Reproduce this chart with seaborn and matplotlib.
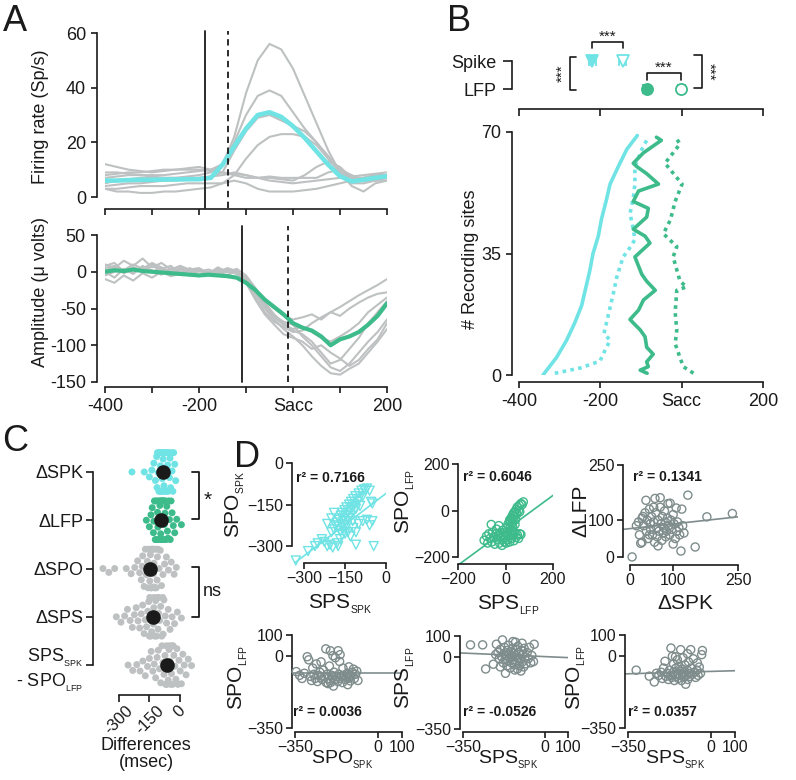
import matplotlib
matplotlib.use("Agg")
import matplotlib.pyplot as plt
import numpy as np
import pandas as pd
import seaborn as sns

# ======================= DATA =======================
# ---- Panel A: firing rate (Sp/s) ----
fr_time = [-400, -375, -350, -325, -300, -275, -250, -225, -200, -175, -150, -125,
           -100, -75, -50, -25, 0, 25, 50, 75, 100, 125, 150, 175, 200]
fr_site1 = [9, 9, 8.5, 8, 8, 8, 8.5, 9, 9.5, 10, 12, 22, 38, 50, 56, 54, 47, 37, 27, 17, 9, 5, 5, 6, 7]
fr_site2 = [7, 7.5, 8, 8, 7.5, 7, 7, 7.5, 8, 9, 12, 20, 30, 37, 39, 37, 31, 25, 20, 14, 9, 7, 7, 8, 8]
fr_site3 = [4, 4.5, 5, 5, 5.5, 6, 6, 6.5, 7, 7.5, 9, 17, 24, 29, 30, 28, 26, 24, 20, 15, 10, 7, 7, 8, 8]
fr_site4 = [3, 3, 3.5, 4, 4, 4, 4.5, 5, 5, 5, 5, 8, 14, 19, 22, 23, 23, 22, 19, 14, 9, 4, 2, 5, 6]
fr_site5 = [12, 11, 10, 9.5, 9, 9.5, 10, 10, 10, 9.5, 9, 8.5, 8, 7, 7, 6.5, 6, 8, 11, 13, 11, 7, 6, 6, 6]
fr_site6 = [8, 8.5, 9, 9, 9.5, 10, 10, 10.5, 11, 10, 9, 8, 7, 7, 7.5, 7, 7, 7, 7, 9, 10, 8, 6, 6, 7]
fr_site7 = [3, 2, 2, 1.5, 1.5, 2, 2, 2.5, 3, 3.5, 5, 6, 5, 3, 2, 2, 2, 2.5, 3, 4, 5, 6, 7, 7, 7]
fr_site8 = [5, 6, 6.5, 7, 7, 7, 7, 7, 7, 7.5, 8, 9, 8, 7, 6, 5.5, 5, 5.5, 6, 6.5, 7, 7.5, 8, 8.5, 9]
fr_mean = [6, 6, 6.2, 6.3, 6.3, 6.4, 6.4, 6.5, 6.5, 7, 11.8, 18.5, 25, 30, 31, 29.3, 25.9, 21.6,
           16.7, 11.8, 7.6, 5.7, 6.3, 7, 7.6]
fr_events = [-187, -138]          # spike onset (solid), spike offset (dashed)

# ---- Panel A: LFP amplitude (micro volts) ----
lfp_time = [-400, -380, -360, -340, -320, -300, -280, -260, -240, -220, -200, -180, -160, -140,
            -120, -100, -80, -60, -40, -20, 0, 20, 40, 60, 80, 100, 120, 140, 160, 180, 200]
lfp_site1 = [5, 8, 2, 10, 4, 12, 6, 0, 8, 3, 5, -2, 4, 1, -3, -10, -25, -40, -50, -60, -65, -62,
             -58, -65, -55, -48, -40, -32, -25, -18, -10]
lfp_site2 = [-10, -15, -5, -12, -2, -8, 0, -6, -3, 2, -5, 0, -4, 3, 0, -8, -30, -50, -65, -78, -88,
             -100, -115, -128, -138, -140, -132, -125, -110, -95, -78]
lfp_site3 = [10, 5, 15, 8, 18, 6, 12, 3, 8, 0, 4, -3, 2, -1, 4, -5, -22, -42, -58, -70, -80, -85,
             -95, -110, -125, -120, -105, -90, -70, -55, -40]
lfp_site4 = [-5, 0, 3, -2, 6, 2, -4, 5, -1, 2, -6, 0, -3, 2, -2, -12, -35, -55, -68, -75, -82, -80,
             -70, -62, -55, -60, -50, -42, -35, -30, -28]
lfp_site5 = [0, -8, 4, -3, 8, 0, 5, -2, 3, -4, 1, -2, 0, -5, 2, -15, -38, -58, -72, -85, -90, -95,
             -105, -100, -110, -118, -128, -120, -105, -92, -70]
lfp_site6 = [8, 12, 0, 6, 2, 10, 4, 8, -2, 5, 0, 3, -1, 5, 1, -10, -28, -45, -62, -72, -78, -75,
             -82, -90, -95, -88, -80, -70, -55, -45, -35]
lfp_site7 = [2, 6, -2, 3, 0, 8, 2, -4, 5, 0, 2, -3, 6, 0, -2, -8, -25, -48, -60, -68, -72, -88,
             -100, -115, -130, -135, -125, -110, -95, -82, -65]
lfp_mean = [0, 2, 1, 3, 1, 0, -1, -2, -3, -4, -5, -4, -5, -6, -8, -15, -25, -38, -48, -58, -70,
            -76, -80, -88, -100, -92, -88, -82, -72, -60, -43]
lfp_events = [-109, -11]          # LFP onset (solid), LFP offset (dashed)

# ---- Panel B: onset / offset per recording site ----
b_spk_on_site = [0, 5, 10, 15, 20, 25, 30, 35, 40, 45, 50, 55, 60, 65, 69]
b_spk_on_t = [-341, -308, -283, -263, -246, -236, -226, -218, -205, -197, -186, -176, -156, -135, -109]
b_spk_off_site = [0.5, 2, 4, 7, 10, 12, 17, 23.5, 28, 34, 36, 39, 42, 46.5, 51, 55, 60, 65, 68.5]
b_spk_off_t = [-312, -250, -201, -189, -176, -191, -181, -168, -160, -144, -131, -115, -119, -127,
               -119, -115, -115, -98, -82]
b_lfp_on_site = [0.5, 1.4, 2.4, 3.8, 6, 8, 11, 13, 15, 16, 18.7, 21.6, 24.4, 27, 29, 34, 38, 40, 42,
                 45.5, 48, 50, 53, 55, 58, 60, 61, 64, 67.6, 68.5]
b_lfp_on_t = [-85, -102, -82, -86, -70, -86, -90, -102, -119, -127, -106, -94, -65, -86, -98, -115,
              -78, -90, -119, -86, -82, -119, -106, -57, -86, -110, -119, -94, -50, -62]
b_lfp_off_site = [0.5, 2.4, 5, 9, 13, 18, 24.4, 25.4, 27, 34, 37, 40.7, 44.6, 50, 55, 61, 64, 66.6, 68.5]
b_lfp_off_t = [29, 4, -4, -16, -12, -16, -12, 12, -4, -21, -12, -45, -28, -16, 1, -41, -21, -4, -16]
b_spk_mean = [-220, -145]         # onset, offset
b_spk_err = [9, 9]
b_lfp_mean = [-86, -1]
b_lfp_err = [9, 9]

# ---- Panel C: differences (msec) ----
c_order = ["ΔSPK", "ΔLFP", "ΔSPO", "ΔSPS", "SPS−SPO"]
c_dspk = [-236, -175, -150, -138, -128, -120, -114, -110, -106, -103, -100, -97, -95, -92, -90, -88,
          -86, -84, -82, -80, -78, -76, -74, -72, -70, -68, -65, -62, -60, -57, -54, -51, -48, -45,
          -42, -38, -34, -30, -25, -20, -112, -94]
c_dlfp = [-165, -150, -142, -136, -130, -125, -121, -117, -113, -110, -107, -104, -101, -98, -96,
          -94, -92, -90, -88, -86, -84, -82, -80, -78, -76, -73, -70, -67, -64, -61, -58, -55, -51,
          -47, -43, -38, -32, -25, -15, 8, -128, -108, -93, -83]
c_dspo = [-379, -350, -321, -264, -240, -222, -208, -198, -190, -183, -176, -170, -165, -160, -156,
          -152, -148, -145, -142, -139, -136, -133, -130, -127, -124, -120, -116, -112, -107, -102,
          -96, -90, -83, -75, -66, -56, -42, -28, -17, -155, -140, -128, -110, -185]
c_dsps = [-313, -290, -272, -258, -245, -234, -224, -215, -206, -198, -190, -183, -176, -170, -164,
          -158, -153, -148, -143, -139, -135, -131, -127, -123, -119, -115, -111, -107, -103, -99,
          -94, -89, -84, -78, -72, -65, -57, -48, -38, -26, -12, 8, -150, -128, -105, -82]
c_sps_spo = [-255, -232, -212, -196, -182, -170, -159, -150, -141, -133, -126, -119, -112, -106,
             -100, -94, -88, -83, -78, -73, -69, -65, -61, -57, -53, -49, -45, -41, -37, -33, -29,
             -24, -19, -14, -9, -4, 2, 8, 15, 22, 31, 42, 58, -66, -51, -36]
c_means = [-82, -91, -148, -132, -63]
c_sem = [13, 13, 13, 13, 13]

# ---- Panel D: scatter data ----
d1_x = [-330, -285, -260, -250, -235, -225, -215, -205, -195, -180, -175, -168, -200, -190, -185,
        -180, -175, -172, -168, -165, -162, -160, -158, -155, -152, -150, -148, -145, -143, -140,
        -138, -135, -132, -130, -128, -125, -122, -120, -118, -115, -112, -110, -105, -100, -98,
        -95, -90, -85, -80, -75, -70, -60, -150, -160, -140, -120, -130, -100, -85, -70, -60, -50,
        -45, -110, -110, -215, -200, -190, -50, -55]
d1_y = [-352, -318, -300, -290, -275, -285, -300, -295, -305, -290, -300, -275, -250, -240, -225,
        -215, -230, -205, -245, -190, -220, -180, -200, -235, -170, -210, -190, -160, -225, -180,
        -200, -150, -170, -190, -140, -160, -210, -130, -175, -150, -120, -165, -140, -110, -130,
        -155, -100, -120, -95, -100, -92, -100, -255, -260, -250, -235, -265, -220, -210, -205,
        -225, -210, -300, -295, -250, -220, -200, -180, -146, -140]
d2_x = [-90, -80, -75, -70, -65, -60, -58, -55, -50, -45, -40, -38, -35, -30, -28, -25, -20, -18,
        -15, -12, -10, -8, -5, -2, 0, 3, 5, 8, 10, 12, 15, 18, 20, 22, 25, 28, 30, 35, 40, 45, 50,
        55, 60, 65, 10, 15, 18, 22, 25, 28, 30, 32, 35, 38, 40, 42, 45, 48, 50, 55, 58, 60, 65, 70,
        75, 40, 30]
d2_y = [-128, -110, -140, -100, -120, -60, -135, -95, -115, -145, -100, -80, -125, -105, -65, -140,
        -95, -115, -150, -85, -125, -105, -135, -95, -115, -140, -75, -100, -125, -110, -90, -135,
        -70, -105, -120, -85, -100, -130, -95, -115, -105, -120, -100, -103, -60, -50, -40, -45,
        -30, -55, -20, -35, -10, -25, -5, -40, 5, -15, 15, 0, 22, -5, 30, 25, 37, -60, -70]
d3_x = [5, 20, 22, 25, 28, 30, 32, 35, 37, 38, 40, 42, 45, 47, 48, 50, 52, 55, 57, 58, 60, 62, 63,
        65, 67, 70, 70, 72, 74, 75, 77, 78, 80, 82, 83, 85, 87, 88, 90, 92, 93, 95, 97, 100, 102,
        105, 107, 108, 110, 113, 115, 118, 120, 122, 125, 134, 151, 178, 237, 15, 28, 55, 65, 100, 45]
d3_y = [0, 95, 60, 37, 40, 110, 85, 120, 154, 70, 100, 50, 130, 90, 75, 110, 60, 95, 40, 159, 120,
        80, 55, 100, 70, 161, 135, 90, 45, 110, 65, 80, 125, 95, 55, 70, 105, 145, 85, 60, 146, 100,
        75, 115, 90, 50, 133, 70, 95, 80, 60, 16, 130, 85, 65, 168, 27, 109, 118, 85, 105, 135, 30,
        35, 60]
d4_x = [-344, -330, -320, -310, -298, -292, -285, -280, -275, -270, -265, -260, -255, -250, -245,
        -240, -235, -230, -225, -220, -218, -215, -210, -205, -201, -200, -195, -190, -188, -185,
        -180, -175, -170, -168, -165, -162, -160, -155, -150, -148, -145, -140, -135, -130, -128,
        -125, -123, -120, -117, -115, -110, -104, -100, -95, -90, -85, -180, -190, -240, -160,
        -200, -210]
d4_y = [-77, -95, -110, -85, -5, -20, -100, -120, -60, -90, -110, -40, -125, -95, -80, -105, -115,
        -70, -100, 33, -130, -90, -110, -50, 24, -120, -95, -105, -147, -80, -115, -100, -125, 24,
        -90, -28, -110, -100, -130, -60, -95, -115, -105, -85, -140, -110, -54, -95, -122, -100,
        -80, -65, -110, -90, -75, -120, -10, 0, -30, 5, -130, -135]
d5_x = [-318, -266, -253, -220, -207, -200, -195, -190, -185, -181, -178, -175, -172, -170, -168,
        -165, -162, -160, -158, -155, -152, -150, -148, -145, -142, -140, -138, -136, -135, -132,
        -130, -128, -125, -122, -120, -117, -115, -112, -110, -108, -105, -102, -100, -97, -95,
        -92, -90, -88, -85, -80, -75, -70, -65, -60, -55, -48, -45, -190, -210, -125]
d5_y = [57, 57, -60, -37, 60, 20, -10, 35, 0, 81, -30, 15, 45, -15, -81, 5, -45, 30, -20, 55, 10,
        -5, -55, 25, -30, 0, 40, 73, -15, 15, -40, -65, 5, 35, -20, -60, 50, -5, 20, -45, -10, -70,
        30, 65, -25, 10, -50, 40, -5, -35, 20, -10, 45, -30, 5, -24, 60, -50, 10, 70]
d6_x = [-315, -260, -239, -230, -220, -210, -205, -200, -194, -190, -185, -180, -175, -170, -169,
        -165, -163, -160, -158, -155, -150, -148, -145, -142, -140, -138, -135, -132, -130, -128,
        -125, -122, -120, -118, -115, -112, -110, -107, -105, -100, -98, -95, -92, -90, -86, -85,
        -80, -75, -70, -65, -60, -58, -55, -50, -45, -40, -37, -100, -150]
d6_y = [-70, -99, -127, -85, -95, -80, -110, -60, -27, -100, -85, -115, -70, -95, 37, -105, -3, -80,
        -40, -120, -90, -60, -100, -20, -85, -110, -51, -75, -95, 29, -120, -65, -90, -10, -105, -80,
        -45, -138, -95, -70, -115, -30, -85, -100, 29, -60, -90, -15, -80, -105, -70, -35, -95, -55,
        -85, 5, 25, 10, -5]
d_fits = [(0.75, -110), (0.75, -85), (0.128, 77), (0.0, -85), (-0.049, 0), (0.033, -76)]
d_r2 = ["0.7166", "0.6046", "0.1341", "0.0036", "-0.0526", "0.0357"]

# ======================= STYLE =======================
CYAN = "#70e3e5"
GREEN = "#3dbb8b"
LGRAY = "#bec1c1"
DGRAY = "#7f8c8c"
INK = "#1a1a1a"

W, H = 796, 780
sns.set_theme(style="ticks")
plt.rcParams["font.family"] = ["Liberation Sans", "DejaVu Sans"]
plt.rcParams.update({
    "mathtext.fontset": "custom",
    "mathtext.rm": "Liberation Sans",
    "mathtext.it": "Liberation Sans:italic",
    "mathtext.bf": "Liberation Sans:bold",
    "axes.linewidth": 1.2,
    "xtick.major.width": 1.2, "ytick.major.width": 1.2,
    "xtick.major.size": 4.5, "ytick.major.size": 4.5,
    "text.color": INK, "axes.edgecolor": INK, "xtick.color": INK,
    "ytick.color": INK, "axes.labelcolor": INK,
})

fig = plt.figure(figsize=(W / 100, H / 100), dpi=100)
PT = 0.72


def box(x0, y0, x1, y1):
    return fig.add_axes([x0 / W, 1 - y1 / H, (x1 - x0) / W, (y1 - y0) / H])


def frame(ax, left=0, bottom=0):
    sns.despine(ax=ax)
    ax.spines["left"].set_position(("outward", left * PT))
    ax.spines["bottom"].set_position(("outward", bottom * PT))
    ax.patch.set_alpha(0)


def sub(main, s):
    return main + r"$_{_\mathregular{" + s + "}}$"


DASH = (0, (3.5, 2.5))

# ======================= PANEL A =======================
axA1 = box(105, 33, 387, 197)
fr_sites = [fr_site1, fr_site2, fr_site3, fr_site4, fr_site5, fr_site6, fr_site7, fr_site8]
df_fr = pd.DataFrame({"t": fr_time * len(fr_sites), "rate": sum(fr_sites, []),
                      "site": np.repeat(np.arange(len(fr_sites)), len(fr_time))})
sns.lineplot(data=df_fr, x="t", y="rate", units="site", estimator=None, color=LGRAY, lw=1.5, ax=axA1)
sns.lineplot(x=fr_time, y=fr_mean, color=CYAN, lw=3.3, errorbar=None, ax=axA1)
for t, ls in zip(fr_events, ["-", DASH]):
    axA1.plot([t, t], [-4, 60.6], color=INK, lw=1.3, ls=ls, clip_on=False, zorder=4)
axA1.set_xlim(-400, 200)
axA1.set_ylim(0, 60)
axA1.set_xticks([-400, -300, -200, -100, 0, 100, 200])
axA1.set_xticklabels([])
axA1.set_yticks([0, 20, 40, 60])
frame(axA1, 8, 12)
axA1.spines["left"].set_bounds(0, 60)
axA1.spines["bottom"].set_bounds(-400, 200)
axA1.set_xlabel("")
axA1.set_ylabel("Firing rate (Sp/s)", fontsize=13)
axA1.yaxis.set_label_coords(-0.199, 0.49)
axA1.tick_params(labelsize=13)

axA2 = box(105, 235, 387, 382)
lfp_sites = [lfp_site1, lfp_site2, lfp_site3, lfp_site4, lfp_site5, lfp_site6, lfp_site7]
df_lfp = pd.DataFrame({"t": lfp_time * len(lfp_sites), "amp": sum(lfp_sites, []),
                       "site": np.repeat(np.arange(len(lfp_sites)), len(lfp_time))})
sns.lineplot(data=df_lfp, x="t", y="amp", units="site", estimator=None, color=LGRAY, lw=1.5, ax=axA2)
sns.lineplot(x=lfp_time, y=lfp_mean, color=GREEN, lw=3.0, errorbar=None, ax=axA2)
for t, ls in zip(lfp_events, ["-", DASH]):
    axA2.plot([t, t], [-150, 62], color=INK, lw=1.3, ls=ls, clip_on=False, zorder=4)
axA2.set_xlim(-400, 200)
axA2.set_ylim(-150, 50)
axA2.set_xticks([-400, -300, -200, -100, 0, 100, 200])
axA2.set_xticklabels(["-400", "", "-200", "", "Sacc", "", "200"])
axA2.set_yticks([50, 0, -50, -100, -150])
axA2.set_yticklabels(["50", "0", "-50", "-100", "-150"])
frame(axA2, 8, 5)
axA2.spines["left"].set_bounds(-150, 50)
axA2.spines["bottom"].set_bounds(-400, 200)
axA2.set_xlabel("")
axA2.set_ylabel("Amplitude (μ volts)", fontsize=13)
axA2.yaxis.set_label_coords(-0.199, 0.61)
axA2.tick_params(labelsize=13)

# ======================= PANEL B =======================
axB0 = box(519, 30, 763, 109)
for m, e, filled in zip(b_spk_mean, b_spk_err, [True, False]):
    axB0.errorbar([m], [1], xerr=[e], fmt="v", ms=8, color=CYAN, mec=CYAN,
                  mfc=CYAN if filled else "white", mew=1.3, capsize=3.5,
                  elinewidth=1.2, capthick=1.2, clip_on=False)
for m, e, filled in zip(b_lfp_mean, b_lfp_err, [True, False]):
    axB0.errorbar([m], [0], xerr=[e], fmt="o", ms=8, color=GREEN, mec=GREEN,
                  mfc=GREEN if filled else "white", mew=1.3, capsize=3.5,
                  elinewidth=1.2, capthick=1.2, clip_on=False)
bk = dict(color=INK, lw=1.2, clip_on=False)
axB0.plot([b_spk_mean[0], b_spk_mean[0], b_spk_mean[1], b_spk_mean[1]], [1.45, 1.68, 1.68, 1.45], **bk)
axB0.text(np.mean(b_spk_mean), 1.86, "***", ha="center", va="center", fontsize=11)
axB0.plot([b_lfp_mean[0], b_lfp_mean[0], b_lfp_mean[1], b_lfp_mean[1]], [0.33, 0.57, 0.57, 0.33], **bk)
axB0.text(np.mean(b_lfp_mean), 0.75, "***", ha="center", va="center", fontsize=11)
axB0.plot([-259, -275, -275, -259], [1.14, 1.14, -0.04, -0.04], **bk)
axB0.text(-293, 0.55, "***", ha="center", va="center", rotation=90, fontsize=11)
axB0.plot([30, 50, 50, 30], [1.21, 1.21, 0.04, 0.04], **bk)
axB0.text(68, 0.62, "***", ha="center", va="center", rotation=270, fontsize=11)
axB0.set_xlim(-400, 200)
axB0.set_ylim(-0.714, 2.107)
axB0.set_xticks([-400, -200, 0, 200])
axB0.set_xticklabels([])
axB0.set_yticks([0, 1])
axB0.set_yticklabels(["LFP", "Spike"])
frame(axB0, 7, 0)
axB0.spines["left"].set_bounds(0, 1)
axB0.spines["bottom"].set_bounds(-400, 200)
axB0.tick_params(axis="y", length=6.5, labelsize=13, pad=5)
axB0.tick_params(axis="x", length=5)

axB = box(519, 132, 763, 375)
sns.lineplot(x=b_spk_on_t, y=b_spk_on_site, sort=False, estimator=None, color=CYAN, lw=2.6, ax=axB)
sns.lineplot(x=b_spk_off_t, y=b_spk_off_site, sort=False, estimator=None, color=CYAN, lw=2.6,
             ls=(0, (1, 1.2)), ax=axB)
sns.lineplot(x=b_lfp_on_t, y=b_lfp_on_site, sort=False, estimator=None, color=GREEN, lw=2.6, ax=axB)
sns.lineplot(x=b_lfp_off_t, y=b_lfp_off_site, sort=False, estimator=None, color=GREEN, lw=2.6,
             ls=(0, (1, 1.2)), ax=axB)
axB.set_xlim(-400, 200)
axB.set_ylim(0, 70)
axB.set_xticks([-400, -200, 0, 200])
axB.set_xticklabels(["-400", "-200", "Sacc", "200"])
axB.set_yticks([0, 35, 70])
frame(axB, 7, 7)
axB.spines["left"].set_bounds(0, 70)
axB.spines["bottom"].set_bounds(-400, 200)
axB.set_ylabel("# Recording sites", fontsize=13)
axB.yaxis.set_label_coords(-0.164, 0.477)
axB.tick_params(labelsize=13)

# ======================= PANEL C =======================
axC = box(93, 443, 196, 695)
c_vals = [c_dspk, c_dlfp, c_dspo, c_dsps, c_sps_spo]
df_c = pd.DataFrame({"cond": np.repeat(c_order, [len(v) for v in c_vals]),
                     "diff": np.concatenate(c_vals)})
sns.swarmplot(data=df_c, x="diff", y="cond", order=c_order, hue="cond", hue_order=c_order,
              palette=[CYAN, GREEN, LGRAY, LGRAY, LGRAY], size=5, legend=False, ax=axC,
              warn_thresh=1.0)
axC.errorbar(c_means, np.arange(len(c_order)), xerr=c_sem, fmt="o", color="k", ms=9.5,
             capsize=3.6, elinewidth=1.6, capthick=1.6, zorder=6)
axC.set_xlim(-428, 80)
axC.set_ylim(4.62, -0.6)
axC.set_xticks([-300, -150, 0])
axC.set_xticklabels(["-300", "-150", "0"])
axC.set_yticks(range(len(c_order)))
axC.set_yticklabels(["ΔSPK", "ΔLFP", "ΔSPO", "ΔSPS",
                     sub("SPS", "SPK") + "\n- " + sub("SPO", "LFP")])
frame(axC, 0, 0)
axC.spines["left"].set_bounds(0, 4)
axC.spines["bottom"].set_bounds(-300, 0)
axC.tick_params(axis="y", labelsize=13, length=5, pad=2)
axC.tick_params(axis="x", labelsize=12, length=5, pad=1, labelrotation=45)
for lab in axC.get_xticklabels():
    lab.set_ha("center")
axC.set_ylabel("")
axC.set_xlabel("Differences\n(msec)", fontsize=13, linespacing=1.05)
axC.xaxis.set_label_coords(0.515, -0.165)

# ======================= PANEL D =======================
d_boxes = [(292, 463, 386, 563), (458, 464, 553, 564), (623, 465, 738, 565),
           (292, 635, 402, 732), (460, 636, 568, 732), (625, 635, 735, 732)]
d_xy = [(d1_x, d1_y), (d2_x, d2_y), (d3_x, d3_y), (d4_x, d4_y), (d5_x, d5_y), (d6_x, d6_y)]
d_lims = [((-344, 0), (-361, 0)), ((-200, 200), (-230, 200)), ((-16, 250), (-22, 250)),
          ((-362, 100), (-369, 100)), ((-363, 100), (-366, 100)), ((-362, 100), (-369, 100))]
d_ticks = [([-300, -150, 0], [-300, -150, 0]), ([-200, 0, 200], [-200, 0, 200]),
           ([0, 100, 250], [0, 100, 250]), ([-350, 0, 100], [-350, 0, 100]),
           ([-350, 0, 100], [-350, 0, 100]), ([-350, 0, 100], [-350, 0, 100])]
d_xlabels = [sub("SPS", "SPK"), sub("SPS", "LFP"), "ΔSPK",
             sub("SPO", "SPK"), sub("SPS", "SPK"), sub("SPS", "SPK")]
d_ylabels = [sub("SPO", "SPK"), sub("SPO", "LFP"), "ΔLFP",
             sub("SPO", "LFP"), sub("SPS", "LFP"), sub("SPO", "LFP")]
d_colors = [CYAN, GREEN, DGRAY, DGRAY, DGRAY, DGRAY]
d_markers = ["v", "o", "o", "o", "o", "o"]
d_r2pos = [(0.04, 0.85), (0.05, 0.87), (0.09, 0.88), (0.01, 0.21), (0.03, 0.21), (0.03, 0.21)]
d_xlabpos = [(0.51, -0.29), (0.53, -0.29), (0.54, -0.29), (0.455, -0.175), (0.445, -0.175), (0.46, -0.175)]
d_xlabsize = [15, 15, 15, 14, 14, 14]
d_ylabpos = [(-0.48, 0.58), (-0.43, 0.62), (-0.285, 0.54), (-0.385, 0.56), (-0.395, 0.56), (-0.335, 0.56)]

for i in range(6):
    ax = box(*d_boxes[i])
    xs, ys = d_xy[i]
    ax.scatter(xs, ys, marker=d_markers[i], s=34 if d_markers[i] == "o" else 42,
               facecolors="none", edgecolors=d_colors[i], linewidths=1.0, clip_on=False, zorder=3)
    m, b = d_fits[i]
    ax.axline((0, b), slope=m, color=d_colors[i], lw=1.2, zorder=2)
    ax.set_xlim(*d_lims[i][0])
    ax.set_ylim(*d_lims[i][1])
    xt, yt = d_ticks[i]
    ax.set_xticks(xt)
    ax.set_yticks(yt)
    frame(ax, 0, 0)
    ax.spines["bottom"].set_bounds(xt[0], xt[-1])
    ax.spines["left"].set_bounds(yt[0], yt[-1])
    ax.tick_params(labelsize=11.5, length=4.5, pad=1.5)
    ax.set_xlabel(d_xlabels[i], fontsize=d_xlabsize[i])
    ax.set_ylabel(d_ylabels[i], fontsize=15)
    ax.xaxis.set_label_coords(*d_xlabpos[i])
    ax.yaxis.set_label_coords(*d_ylabpos[i])
    ax.text(*d_r2pos[i], "r² = " + d_r2[i], transform=ax.transAxes, fontsize=10,
            fontweight="bold", family=["Liberation Sans Narrow", "Liberation Sans"],
            ha="left", va="center")

# ======================= ANNOTATIONS =======================
ov = fig.add_axes([0, 0, 1, 1])
ov.set_xlim(0, W)
ov.set_ylim(H, 0)
ov.axis("off")
ov.patch.set_alpha(0)
for letter, (x, y) in zip("ABCD", [(3, 4), (447, 4), (2, 424), (234, 440)]):
    ov.text(x, y, letter, fontsize=26, ha="left", va="top")
ov.plot([192, 199, 199, 192], [472, 472, 519, 519], color=INK, lw=1.3)
ov.text(204, 500, "*", fontsize=15, ha="left", va="center")
ov.plot([192, 199, 199, 192], [567, 567, 617, 617], color=INK, lw=1.3)
ov.text(203, 592, "ns", fontsize=13, ha="left", va="center")

fig.savefig("out.png", dpi=100)
